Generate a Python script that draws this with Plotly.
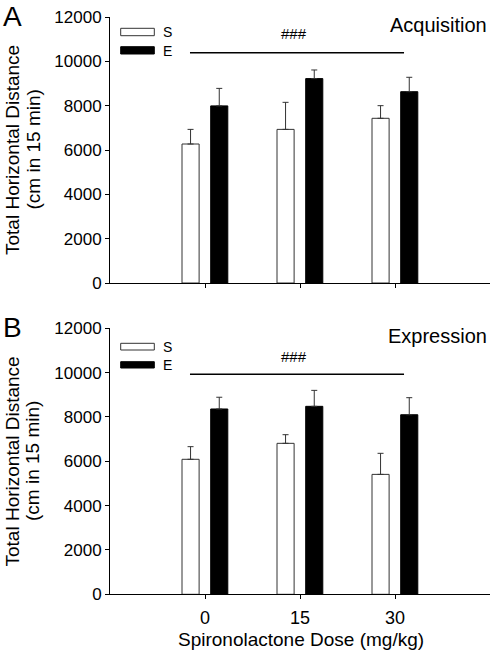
import plotly.graph_objects as go

# ---------------- data ----------------
doses = ["0", "15", "30"]
groups = ["S", "E"]

acq_S = [6270, 6930, 7430]
acq_S_se = [660, 1220, 570]
acq_E = [7990, 9220, 8630]
acq_E_se = [790, 390, 650]

exp_S = [6090, 6810, 5410]
exp_S_se = [570, 390, 950]
exp_E = [8360, 8480, 8100]
exp_E_se = [530, 720, 770]

y_ticks = [0, 2000, 4000, 6000, 8000, 10000, 12000]
sig_label = "###"
acq_sig_y = 10390
exp_sig_y = 9925

W, H = 492, 658
FONT = "Liberation Sans, Arial, sans-serif"


def px(x):
    return x / W


def py(y):
    return 1 - y / H


fig = go.Figure()

panels = [
    dict(S=acq_S, Sse=acq_S_se, E=acq_E, Ese=acq_E_se, xa="x", ya="y"),
    dict(S=exp_S, Sse=exp_S_se, E=exp_E, Ese=exp_E_se, xa="x2", ya="y2"),
]

bar_w = 0.18
for p in panels:
    fig.add_trace(go.Bar(
        x=doses, y=p["S"], width=bar_w, offset=-0.242,
        marker=dict(color="white", line=dict(color="#333333", width=1)),
        error_y=dict(type="data", symmetric=False, array=p["Sse"],
                     arrayminus=[0] * len(doses), color="#333333",
                     thickness=1, width=3),
        xaxis=p["xa"], yaxis=p["ya"], showlegend=False, name="S"))
    fig.add_trace(go.Bar(
        x=doses, y=p["E"], width=bar_w, offset=0.06,
        marker=dict(color="black", line=dict(color="black", width=1)),
        error_y=dict(type="data", symmetric=False, array=p["Ese"],
                     arrayminus=[0] * len(doses), color="#333333",
                     thickness=1, width=3),
        xaxis=p["xa"], yaxis=p["ya"], showlegend=False, name="E"))

xdom = [px(110), px(490)]
top_dom = [py(283), py(17)]
bot_dom = [py(594.3), py(328.3)]

axis_common = dict(showline=True, linecolor="black", linewidth=1,
                   ticks="outside", ticklen=4, tickcolor="black",
                   showgrid=False, zeroline=False, automargin=False,
                   tickfont=dict(family=FONT, size=17, color="black"))

layout = dict(
    width=W, height=H,
    margin=dict(l=0, r=0, t=0, b=0),
    paper_bgcolor="white", plot_bgcolor="white",
    barmode="overlay",
    font=dict(family=FONT, color="black"),
    xaxis=dict(domain=xdom, anchor="y", type="category",
               categoryorder="array", categoryarray=doses,
               range=[-1, 3], showticklabels=False, **axis_common),
    yaxis=dict(domain=top_dom, anchor="x", range=[0, 12000],
               tickvals=y_ticks, tickformat="d", **axis_common),
    xaxis2=dict(domain=xdom, anchor="y2", type="category",
                categoryorder="array", categoryarray=doses,
                range=[-1, 3], ticklabelstandoff=3,
                **{**axis_common,
                   "tickfont": dict(family=FONT, size=18, color="black")}),
    yaxis2=dict(domain=bot_dom, anchor="x2", range=[0, 12000],
                tickvals=y_ticks, tickformat="d", **axis_common),
)
fig.update_layout(**layout)

shapes = []
annotations = []

# significance lines
for xr, yr, sy in [("x", "y", acq_sig_y), ("x2", "y2", exp_sig_y)]:
    shapes.append(dict(type="line", xref=xr, yref=yr, x0=-0.158, x1=2.095,
                       y0=sy, y1=sy, line=dict(color="black", width=1.5)))

# legend boxes (pixel positions)
legend_rows = [
    (28.3, 35.7, 46.7, 54.0, 32.0, 50.5),
    (343.3, 350.0, 361.7, 368.0, 347.0, 365.0),
]
for s0, s1, e0, e1, sty, ety in legend_rows:
    shapes.append(dict(type="rect", xref="paper", yref="paper",
                       x0=px(120.7), x1=px(154.3), y0=py(s1), y1=py(s0),
                       fillcolor="white", line=dict(color="#333333", width=1)))
    shapes.append(dict(type="rect", xref="paper", yref="paper",
                       x0=px(120.7), x1=px(154.3), y0=py(e1), y1=py(e0),
                       fillcolor="black", line=dict(color="black", width=1)))
    annotations.append(dict(text=groups[0], xref="paper", yref="paper",
                            x=px(161), y=py(sty), xanchor="left", yanchor="middle",
                            showarrow=False, font=dict(family=FONT, size=14)))
    annotations.append(dict(text=groups[1], xref="paper", yref="paper",
                            x=px(161), y=py(ety), xanchor="left", yanchor="middle",
                            showarrow=False, font=dict(family=FONT, size=14)))

# ### labels
for yy in [34, 356.7]:
    annotations.append(dict(text=sig_label, xref="paper", yref="paper",
                            x=px(294), y=py(yy), xanchor="center", yanchor="middle",
                            showarrow=False, font=dict(family=FONT, size=15)))

# panel titles
for txt, yy in [("Acquisition", 25), ("Expression", 336)]:
    annotations.append(dict(text=txt, xref="paper", yref="paper",
                            x=px(489), y=py(yy), xanchor="right", yanchor="middle",
                            showarrow=False, font=dict(family=FONT, size=20)))

# panel letters
for txt, yy in [("A", 16), ("B", 327)]:
    annotations.append(dict(text=txt, xref="paper", yref="paper",
                            x=px(0.5), y=py(yy), xanchor="left", yanchor="middle",
                            showarrow=False, font=dict(family=FONT, size=28)))

# y-axis titles (two lines each)
for yc in [150, 461.5]:
    for txt, xc in [("Total Horizontal Distance", 12), ("(cm in 15 min)", 32.5)]:
        annotations.append(dict(text=txt, xref="paper", yref="paper",
                                x=px(xc), y=py(yc), xanchor="center", yanchor="middle",
                                textangle=-90, showarrow=False,
                                font=dict(family=FONT, size=19)))

# x-axis title
annotations.append(dict(text="Spironolactone Dose (mg/kg)", xref="paper", yref="paper",
                        x=px(301), y=py(639), xanchor="center", yanchor="middle",
                        showarrow=False, font=dict(family=FONT, size=19)))

fig.update_layout(shapes=shapes, annotations=annotations)
fig.write_html("out.html", config={"displayModeBar": False},
               post_script="document.body.style.margin='0';document.body.style.overflow='hidden';")
